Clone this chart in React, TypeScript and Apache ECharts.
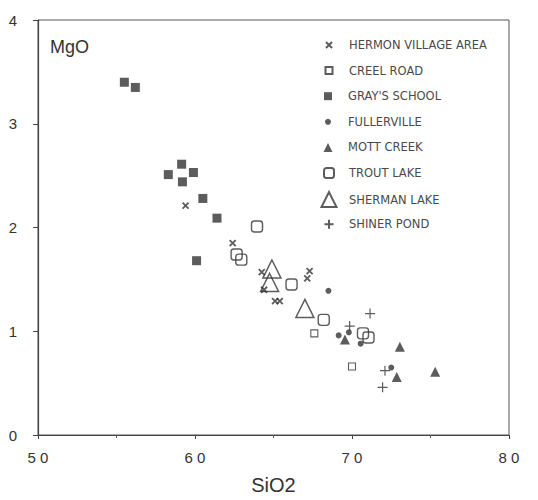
import React, { useEffect, useRef } from "react";
import * as echarts from "echarts";

const seriesNames = [
  "HERMON VILLAGE AREA",
  "CREEL ROAD",
  "GRAY'S SCHOOL",
  "FULLERVILLE",
  "MOTT CREEK",
  "TROUT LAKE",
  "SHERMAN LAKE",
  "SHINER POND",
];

const hermonVillage = [[59.4, 2.21], [62.4, 1.85], [64.25, 1.57], [64.4, 1.4], [65.1, 1.29], [65.4, 1.29], [67.3, 1.58], [67.15, 1.51]];
const creelRoad = [[67.6, 0.98], [70.0, 0.66]];
const graysSchool = [[55.5, 3.4], [56.2, 3.35], [58.3, 2.51], [59.15, 2.61], [59.2, 2.44], [59.9, 2.53], [60.5, 2.28], [61.4, 2.09], [60.1, 1.68]];
const fullerville = [[68.5, 1.39], [69.15, 0.96], [69.8, 0.99], [70.55, 0.88], [72.5, 0.65]];
const mottCreek = [[69.55, 0.92], [73.05, 0.85], [72.85, 0.56], [75.3, 0.61]];
const troutLake = [[63.95, 2.01], [62.65, 1.74], [62.95, 1.69], [66.15, 1.45], [68.2, 1.11], [70.7, 0.98], [71.05, 0.94]];
const shermanLake = [[64.9, 1.6], [64.75, 1.47], [67.0, 1.22]];
const shinerPond = [[71.15, 1.17], [69.85, 1.05], [72.1, 0.62], [71.95, 0.46]];

const xTicks = [50, 60, 70, 80];
const yTicks = [0, 1, 2, 3, 4];

const INK = "#333";
const CROSS = "path://M0,0L8,8M8,0L0,8";
const PLUS = "path://M5,0L5,10M0,5L10,5";

// legend icon sizes (px), per series
const legendIconSizes = [6, 7, 8, 6, 9, 10, 15, 9];

export default function App() {
  const ref = useRef<HTMLDivElement>(null);
  useEffect(() => {
    if (!ref.current) return;
    const chart = echarts.init(ref.current, null, { renderer: "svg" });
    const open = { color: "transparent", borderColor: INK, borderWidth: 1.3 };
    const filled = { color: INK, borderColor: INK, borderWidth: 0 };
    const iconCx = 328;
    const textX = 348;
    const rowTop = 45;
    const rowStep = 25.6;
    const legends = seriesNames.map((name, i) => {
      const s = legendIconSizes[i];
      const h = Math.max(s, 14);
      return {
        orient: "vertical",
        left: iconCx - s / 2,
        top: rowTop + i * rowStep - h / 2,
        padding: 0,
        itemWidth: s,
        itemHeight: s,
        itemGap: 0,
        data: [name],
        textStyle: {
          fontFamily: "DejaVu Sans, sans-serif",
          fontSize: 11.5,
          color: "#4a4a4a",
          lineHeight: 14,
          padding: [0, 0, 0, textX - (iconCx + s / 2 + 5)],
        },
      };
    });
    chart.setOption({
      animation: false,
      backgroundColor: "#fff",
      grid: {
        left: 38,
        right: 29,
        top: 20,
        bottom: 60,
        show: true,
        borderColor: "#555",
        borderWidth: 1,
      },
      legend: legends,
      graphic: [
        {
          type: "text",
          left: 50,
          top: 38,
          style: {
            text: "MgO",
            fontFamily: "Liberation Sans, Arial, sans-serif",
            fontSize: 18,
            fill: "#333",
          },
        },
      ],
      xAxis: {
        type: "value",
        min: xTicks[0],
        max: xTicks[xTicks.length - 1],
        interval: 10,
        name: "SiO2",
        nameLocation: "middle",
        nameGap: 40,
        nameTextStyle: {
          fontFamily: "Liberation Sans, Arial, sans-serif",
          fontSize: 20,
          color: "#333",
        },
        axisLine: { lineStyle: { color: "#444", width: 1.2 } },
        axisTick: { show: true, length: 4, lineStyle: { color: "#444" } },
        minorTick: { show: true, splitNumber: 2, length: 3, lineStyle: { color: "#555" } },
        splitLine: { show: false },
        axisLabel: {
          margin: 15,
          fontFamily: "Liberation Sans, Arial, sans-serif",
          fontSize: 15,
          color: "#333",
          formatter: (v: number) => String(v).split("").join(" "),
        },
      },
      yAxis: {
        type: "value",
        min: yTicks[0],
        max: yTicks[yTicks.length - 1],
        interval: 1,
        axisLine: { show: true, lineStyle: { color: "#444", width: 1.2 } },
        axisTick: { show: true, length: 5, lineStyle: { color: "#444" } },
        splitLine: { show: false },
        axisLabel: {
          margin: 21,
          fontFamily: "Liberation Sans, Arial, sans-serif",
          fontSize: 15,
          color: "#333",
        },
      },
      series: [
        { name: seriesNames[0], type: "scatter", data: hermonVillage, symbol: CROSS, symbolSize: 6, itemStyle: { color: "transparent", borderColor: INK, borderWidth: 1.8 } },
        { name: seriesNames[1], type: "scatter", data: creelRoad, symbol: "rect", symbolSize: 7, itemStyle: { ...open, borderWidth: 1.1 } },
        { name: seriesNames[2], type: "scatter", data: graysSchool, symbol: "rect", symbolSize: 9, itemStyle: filled },
        { name: seriesNames[3], type: "scatter", data: fullerville, symbol: "circle", symbolSize: 6, itemStyle: filled },
        { name: seriesNames[4], type: "scatter", data: mottCreek, symbol: "triangle", symbolSize: 10, itemStyle: filled },
        { name: seriesNames[5], type: "scatter", data: troutLake, symbol: "roundRect", symbolSize: 11, itemStyle: { ...open, borderWidth: 1.4 } },
        { name: seriesNames[6], type: "scatter", data: shermanLake, symbol: "triangle", symbolSize: 18, itemStyle: { ...open, borderWidth: 1.5 } },
        { name: seriesNames[7], type: "scatter", data: shinerPond, symbol: PLUS, symbolSize: 10, itemStyle: { color: "transparent", borderColor: INK, borderWidth: 1.2 } },
      ],
    });
    return () => chart.dispose();
  }, []);
  return <div ref={ref} style={{ width: 538, height: 500, position: "absolute", left: 0, top: 0 }} />;
}
